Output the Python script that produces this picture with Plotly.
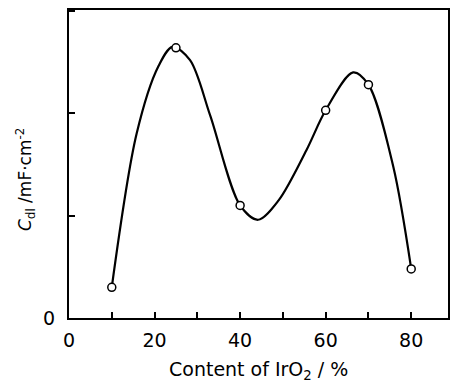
import plotly.graph_objects as go

# measured data points (content of IrO2 %, Cdl)
x_pts = [10, 25, 40, 60, 70, 80]
y_pts = [0.30, 2.64, 1.10, 2.03, 2.28, 0.48]

# hand-drawn smooth curve, control points
curve_x = [10, 15.8, 20.9, 24.2, 28.3, 33.0, 40, 44.2, 49.0, 55.5, 60, 66.4, 70, 75.8, 80]
curve_y = [0.30, 1.80, 2.46, 2.65, 2.52, 1.98, 1.10, 0.96, 1.15, 1.64, 2.03, 2.40, 2.28, 1.48, 0.48]

x_ticks = [0, 20, 40, 60, 80]
x_ticktext = ["0", "20", "40", "60", "80"]
y_ticks = [0]
y_ticktext = ["0"]

x_title = "Content of IrO<sub>2</sub> / %"
y_title = "<i>C</i><sub>dl</sub> /mF·cm<sup>-2</sup>"

FONT = "DejaVu Sans"

fig = go.Figure()
fig.add_trace(go.Scatter(x=curve_x, y=curve_y, mode="lines",
                         line=dict(color="black", width=2.2, shape="spline", smoothing=0.9),
                         hoverinfo="skip", showlegend=False))
fig.add_trace(go.Scatter(x=x_pts, y=y_pts, mode="markers",
                         marker=dict(symbol="circle", size=8, color="white",
                                     line=dict(color="black", width=1.5)),
                         showlegend=False))

fig.update_layout(
    width=450, height=383,
    margin=dict(l=69, r=2, t=10, b=65, autoexpand=False),
    paper_bgcolor="white", plot_bgcolor="white",
    font=dict(family=FONT, color="black", size=18),
    xaxis=dict(range=[0, 88.6], tickvals=x_ticks, ticktext=x_ticktext,
               ticks="inside", ticklen=6, tickwidth=2, tickcolor="black",
               minor=dict(tick0=0, dtick=10, ticks="inside", ticklen=6, tickwidth=2,
                          tickcolor="black", showgrid=False),
               showline=True, linewidth=2, linecolor="black", mirror=True,
               showgrid=False, zeroline=False, ticklabelstandoff=4,
               tickfont=dict(size=19), automargin=False),
    yaxis=dict(range=[0, 3.01], tickvals=y_ticks, ticktext=y_ticktext,
               ticks="inside", ticklen=6, tickwidth=2, tickcolor="black",
               minor=dict(tick0=0, dtick=1, ticks="inside", ticklen=6, tickwidth=2,
                          tickcolor="black", showgrid=False),
               showline=True, linewidth=2, linecolor="black", mirror=True,
               showgrid=False, zeroline=False, ticklabelstandoff=8,
               tickfont=dict(size=19), automargin=False),
    annotations=[
        dict(text=x_title, xref="paper", yref="paper", x=0.5, y=0,
             xanchor="center", yanchor="middle", yshift=-52, showarrow=False,
             font=dict(size=19)),
        dict(text=y_title, xref="paper", yref="paper", x=0, y=0.448,
             xanchor="center", yanchor="middle", xshift=-44, textangle=-90,
             showarrow=False, font=dict(size=17)),
    ],
)

fig.write_html("out.html", config={"displayModeBar": False},
               post_script="document.body.style.margin='0';document.body.style.overflow='hidden';")
